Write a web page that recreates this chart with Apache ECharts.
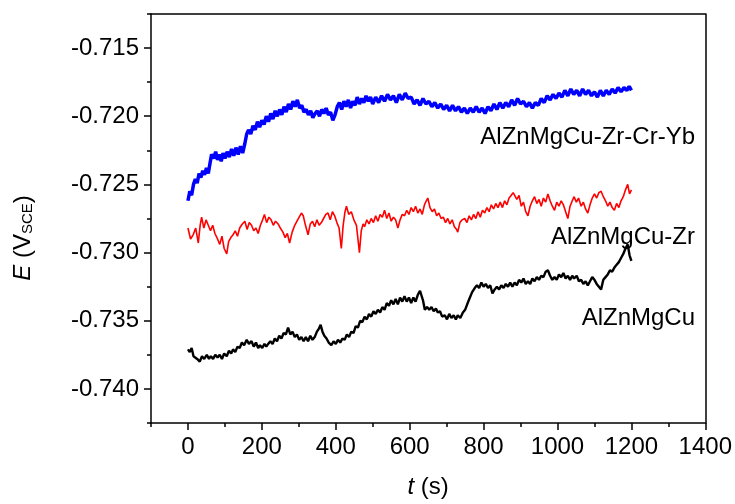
<!DOCTYPE html>
<html>
<head>
<meta charset="utf-8">
<script src="https://cdn.jsdelivr.net/npm/echarts@6/dist/echarts.min.js"></script>
<style>
  html, body { margin: 0; padding: 0; background: #fff; }
  #main { width: 735px; height: 504px; }
</style>
</head>
<body>
<div id="main"></div>
<script>
// time axis ticks and potential axis ticks
var xMajor = [0, 200, 400, 600, 800, 1000, 1200, 1400];
var xMinor = [-100, 100, 300, 500, 700, 900, 1100, 1300];
var yMajor = [-0.740, -0.735, -0.730, -0.725, -0.720, -0.715];
var yMinor = [-0.7425, -0.7375, -0.7325, -0.7275, -0.7225, -0.7175, -0.7125];

var seriesNames = ['AlZnMgCu-Zr-Cr-Yb', 'AlZnMgCu-Zr', 'AlZnMgCu'];

// AlZnMgCu-Zr-Cr-Yb (blue)
var tBlue = [0,5,10,15,20,25,30,35,40,45,50,55,60,64,70,75,80,85,90,95,100,106,112,118,124,130,136,142,148,154,159,164,170,176,182,188,194,200,206,212,218,224,230,236,242,248,254,260,266,272,278,284,290,296,302,308,314,320,326,332,338,344,350,356,362,368,374,380,386,392,398,404,410,416,422,428,434,440,446,452,458,464,470,476,482,488,494,500,508,516,524,532,540,548,556,564,572,580,588,596,604,612,620,628,636,644,652,660,668,676,684,692,700,708,716,724,732,740,748,756,764,772,780,788,796,804,812,820,828,836,844,852,860,868,876,884,892,900,908,916,924,932,940,948,956,964,972,980,988,996,1004,1012,1020,1028,1036,1044,1052,1060,1068,1076,1084,1092,1100,1108,1116,1124,1132,1140,1148,1156,1164,1172,1180,1188,1194,1200];
var eBlue = [-0.7262,-0.7255,-0.7258,-0.7250,-0.7246,-0.7249,-0.7242,-0.7245,-0.7240,-0.7243,-0.7238,-0.7242,-0.7234,-0.7228,-0.7231,-0.7226,-0.7232,-0.7228,-0.7233,-0.7227,-0.7231,-0.7226,-0.7230,-0.7224,-0.7229,-0.7223,-0.7228,-0.7222,-0.7227,-0.7220,-0.7213,-0.7210,-0.7213,-0.7207,-0.7210,-0.7204,-0.7208,-0.7203,-0.7206,-0.7200,-0.7204,-0.7198,-0.7202,-0.7196,-0.7200,-0.7195,-0.7199,-0.7193,-0.7197,-0.7191,-0.7195,-0.7189,-0.7193,-0.7188,-0.7194,-0.7192,-0.7197,-0.7195,-0.7199,-0.7196,-0.7201,-0.7198,-0.7196,-0.7200,-0.7195,-0.7198,-0.7194,-0.7199,-0.7197,-0.7203,-0.7199,-0.7193,-0.7190,-0.7195,-0.7189,-0.7193,-0.7188,-0.7194,-0.7189,-0.7192,-0.7186,-0.7191,-0.7187,-0.7190,-0.7185,-0.7189,-0.7186,-0.7191,-0.7186,-0.7190,-0.7185,-0.7189,-0.7184,-0.7188,-0.7185,-0.7190,-0.7184,-0.7188,-0.7183,-0.7187,-0.7186,-0.7191,-0.7188,-0.7192,-0.7187,-0.7191,-0.7189,-0.7193,-0.7190,-0.7194,-0.7191,-0.7195,-0.7192,-0.7196,-0.7192,-0.7196,-0.7193,-0.7197,-0.7194,-0.7198,-0.7194,-0.7197,-0.7193,-0.7197,-0.7194,-0.7198,-0.7193,-0.7196,-0.7191,-0.7195,-0.7190,-0.7194,-0.7190,-0.7193,-0.7188,-0.7192,-0.7187,-0.7191,-0.7189,-0.7193,-0.7190,-0.7194,-0.7190,-0.7192,-0.7187,-0.7190,-0.7185,-0.7188,-0.7184,-0.7187,-0.7183,-0.7186,-0.7181,-0.7185,-0.7180,-0.7184,-0.7181,-0.7185,-0.7180,-0.7184,-0.7181,-0.7185,-0.7182,-0.7186,-0.7181,-0.7185,-0.7181,-0.7184,-0.7180,-0.7183,-0.7179,-0.7182,-0.7179,-0.7181,-0.7178,-0.7181];

// AlZnMgCu-Zr (red)
var tRed = [0,7,14,21,28,33,37,43,49,55,61,67,73,80,86,92,98,105,110,116,122,128,134,140,147,154,160,166,172,178,184,190,196,202,207,213,219,225,231,237,244,250,257,263,269,275,282,289,295,301,307,312,318,325,331,337,343,349,355,361,367,373,379,385,391,397,403,409,415,420,425,429,435,442,449,456,460,464,469,474,478,484,490,496,502,508,514,520,526,532,538,544,550,556,562,568,574,580,586,592,598,604,610,616,622,628,634,640,645,649,655,661,667,673,679,685,691,697,703,709,715,721,727,730,736,742,749,755,761,767,773,779,785,791,797,803,809,815,821,827,833,839,845,851,857,863,869,875,880,884,890,896,902,908,914,920,926,932,938,944,950,956,962,968,974,980,986,992,998,1004,1010,1016,1022,1028,1034,1040,1045,1051,1057,1064,1070,1076,1082,1088,1094,1100,1106,1112,1118,1124,1130,1136,1142,1148,1154,1160,1166,1172,1178,1184,1190,1195,1200];
var eRed = [-0.7282,-0.7290,-0.7287,-0.7282,-0.7293,-0.7280,-0.7274,-0.7282,-0.7276,-0.7280,-0.7284,-0.7280,-0.7286,-0.7290,-0.7294,-0.7288,-0.7297,-0.7301,-0.7292,-0.7289,-0.7287,-0.7284,-0.7288,-0.7282,-0.7279,-0.7277,-0.7283,-0.7278,-0.7280,-0.7284,-0.7282,-0.7286,-0.7280,-0.7276,-0.7272,-0.7278,-0.7274,-0.7276,-0.7280,-0.7277,-0.7279,-0.7282,-0.7285,-0.7289,-0.7286,-0.7293,-0.7285,-0.7280,-0.7277,-0.7274,-0.7271,-0.7273,-0.7280,-0.7287,-0.7279,-0.7277,-0.7281,-0.7276,-0.7280,-0.7278,-0.7275,-0.7272,-0.7271,-0.7276,-0.7270,-0.7273,-0.7278,-0.7282,-0.7297,-0.7280,-0.7270,-0.7266,-0.7272,-0.7270,-0.7276,-0.7280,-0.7290,-0.7300,-0.7284,-0.7279,-0.7281,-0.7276,-0.7279,-0.7275,-0.7278,-0.7273,-0.7277,-0.7272,-0.7274,-0.7269,-0.7275,-0.7271,-0.7277,-0.7274,-0.7276,-0.7282,-0.7276,-0.7272,-0.7273,-0.7269,-0.7272,-0.7267,-0.7270,-0.7266,-0.7271,-0.7268,-0.7272,-0.7265,-0.7262,-0.7260,-0.7267,-0.7270,-0.7268,-0.7273,-0.7271,-0.7275,-0.7274,-0.7278,-0.7275,-0.7279,-0.7276,-0.7281,-0.7283,-0.7285,-0.7278,-0.7276,-0.7275,-0.7278,-0.7273,-0.7276,-0.7272,-0.7275,-0.7270,-0.7274,-0.7269,-0.7271,-0.7267,-0.7270,-0.7265,-0.7268,-0.7264,-0.7267,-0.7263,-0.7267,-0.7262,-0.7265,-0.7260,-0.7258,-0.7256,-0.7255,-0.7261,-0.7258,-0.7266,-0.7263,-0.7270,-0.7273,-0.7266,-0.7262,-0.7259,-0.7264,-0.7261,-0.7266,-0.7260,-0.7263,-0.7257,-0.7262,-0.7266,-0.7269,-0.7263,-0.7266,-0.7262,-0.7265,-0.7270,-0.7275,-0.7266,-0.7262,-0.7259,-0.7263,-0.7260,-0.7266,-0.7263,-0.7268,-0.7271,-0.7265,-0.7260,-0.7257,-0.7260,-0.7256,-0.7255,-0.7259,-0.7262,-0.7266,-0.7263,-0.7267,-0.7269,-0.7264,-0.7267,-0.7262,-0.7259,-0.7254,-0.7250,-0.7257,-0.7254];

// AlZnMgCu (black)
var tBlack = [0,5,10,15,19,25,32,38,44,51,57,62,68,74,80,86,92,98,105,111,117,122,128,134,140,146,152,159,165,172,178,184,190,195,201,207,212,217,223,229,235,241,247,253,259,265,271,277,283,289,295,301,307,313,319,325,331,337,343,349,354,359,364,369,375,381,388,394,400,406,412,418,424,430,436,442,448,454,460,466,472,478,484,490,496,502,508,514,520,526,532,538,544,550,556,562,568,574,580,586,592,598,604,610,616,622,628,632,636,641,647,653,659,665,671,676,682,688,695,701,707,713,719,725,730,737,744,750,757,763,769,776,782,788,794,800,806,812,818,824,830,836,842,848,854,860,866,872,878,884,890,896,902,908,914,920,926,932,938,944,950,956,962,968,974,980,986,992,998,1004,1010,1016,1022,1028,1034,1040,1045,1052,1058,1064,1070,1076,1082,1088,1094,1100,1106,1112,1118,1124,1130,1136,1142,1148,1154,1160,1166,1172,1178,1184,1190,1195,1200];
var eBlack = [-0.7371,-0.7373,-0.7370,-0.7376,-0.7375,-0.7378,-0.7380,-0.7376,-0.7378,-0.7375,-0.7378,-0.7376,-0.7378,-0.7375,-0.7377,-0.7375,-0.7378,-0.7374,-0.7376,-0.7372,-0.7374,-0.7371,-0.7373,-0.7369,-0.7370,-0.7366,-0.7368,-0.7364,-0.7367,-0.7365,-0.7369,-0.7366,-0.7370,-0.7368,-0.7370,-0.7367,-0.7369,-0.7367,-0.7365,-0.7367,-0.7363,-0.7365,-0.7361,-0.7363,-0.7359,-0.7360,-0.7355,-0.7360,-0.7358,-0.7362,-0.7360,-0.7364,-0.7362,-0.7365,-0.7362,-0.7365,-0.7361,-0.7364,-0.7362,-0.7358,-0.7356,-0.7353,-0.7358,-0.7361,-0.7363,-0.7366,-0.7368,-0.7365,-0.7367,-0.7364,-0.7366,-0.7363,-0.7364,-0.7360,-0.7362,-0.7358,-0.7359,-0.7354,-0.7355,-0.7350,-0.7351,-0.7347,-0.7349,-0.7345,-0.7347,-0.7343,-0.7345,-0.7342,-0.7344,-0.7340,-0.7342,-0.7337,-0.7339,-0.7335,-0.7338,-0.7334,-0.7338,-0.7333,-0.7336,-0.7332,-0.7336,-0.7333,-0.7337,-0.7333,-0.7336,-0.7331,-0.7328,-0.7327,-0.7335,-0.7342,-0.7340,-0.7342,-0.7340,-0.7343,-0.7341,-0.7344,-0.7343,-0.7347,-0.7346,-0.7349,-0.7345,-0.7348,-0.7346,-0.7349,-0.7346,-0.7348,-0.7344,-0.7342,-0.7337,-0.7333,-0.7329,-0.7326,-0.7324,-0.7326,-0.7322,-0.7325,-0.7323,-0.7326,-0.7324,-0.7330,-0.7327,-0.7325,-0.7327,-0.7324,-0.7326,-0.7323,-0.7325,-0.7322,-0.7325,-0.7322,-0.7324,-0.7320,-0.7322,-0.7319,-0.7323,-0.7321,-0.7323,-0.7319,-0.7321,-0.7318,-0.7320,-0.7317,-0.7318,-0.7314,-0.7313,-0.7317,-0.7320,-0.7318,-0.7320,-0.7316,-0.7318,-0.7315,-0.7319,-0.7317,-0.7320,-0.7317,-0.7319,-0.7317,-0.7321,-0.7320,-0.7323,-0.7321,-0.7324,-0.7321,-0.7318,-0.7320,-0.7323,-0.7325,-0.7327,-0.7320,-0.7318,-0.7316,-0.7313,-0.7314,-0.7311,-0.7309,-0.7307,-0.7304,-0.7301,-0.7297,-0.7294,-0.7302,-0.7306];

function pairs(ts, vs) {
    return ts.map(function (t, i) { return [t, vs[i]]; });
}

var myChart = echarts.init(document.getElementById('main'));
var font = '"Liberation Sans", Arial, sans-serif';
var fs = 24;

var option = {
    animation: false,
    backgroundColor: '#fff',
    grid: { left: 151, top: 14, right: 29, bottom: 77, show: false },
    xAxis: [
        {
            type: 'value', min: -100, max: 1400, position: 'bottom',
            name: '{i|t} (s)', nameLocation: 'middle', nameGap: 52,
            nameTextStyle: {
                fontFamily: font, fontSize: fs, color: '#000',
                rich: { i: { fontFamily: font, fontSize: fs, fontStyle: 'italic', color: '#000' } }
            },
            axisLine: { onZero: false, lineStyle: { color: '#000', width: 1.5 } },
            axisTick: { customValues: xMajor, length: 7, lineStyle: { color: '#000', width: 1.5 } },
            axisLabel: {
                customValues: xMajor, margin: 12, fontFamily: font, fontSize: fs, color: '#000',
                formatter: function (v) { return String(v); }
            },
            splitLine: { show: false }
        },
        {
            type: 'value', min: -100, max: 1400, position: 'bottom',
            axisLine: { show: false, onZero: false },
            axisTick: { customValues: xMinor, length: 4, lineStyle: { color: '#000', width: 1.5 } },
            axisLabel: { show: false },
            splitLine: { show: false }
        },
        {
            type: 'value', min: -100, max: 1400, position: 'top',
            axisLine: { onZero: false, lineStyle: { color: '#000', width: 1.5 } },
            axisTick: { show: false },
            axisLabel: { show: false },
            splitLine: { show: false }
        }
    ],
    yAxis: [
        {
            type: 'value', min: -0.7425, max: -0.7125, position: 'left',
            axisLine: { onZero: false, lineStyle: { color: '#000', width: 1.5 } },
            axisTick: { customValues: yMajor, length: 7, lineStyle: { color: '#000', width: 1.5 } },
            axisLabel: {
                customValues: yMajor, margin: 12, fontFamily: font, fontSize: fs, color: '#000',
                formatter: function (v) { return v.toFixed(3); }
            },
            splitLine: { show: false }
        },
        {
            type: 'value', min: -0.7425, max: -0.7125, position: 'left',
            axisLine: { show: false, onZero: false },
            axisTick: { customValues: yMinor, length: 4, lineStyle: { color: '#000', width: 1.5 } },
            axisLabel: { show: false },
            splitLine: { show: false }
        },
        {
            type: 'value', min: -0.7425, max: -0.7125, position: 'right',
            axisLine: { onZero: false, lineStyle: { color: '#000', width: 1.5 } },
            axisTick: { show: false },
            axisLabel: { show: false },
            splitLine: { show: false }
        }
    ],
    series: [
        { name: seriesNames[0], type: 'line', showSymbol: false, data: pairs(tBlue, eBlue),
          lineStyle: { color: '#0000ff', width: 3.5 }, itemStyle: { color: '#0000ff' } },
        { name: seriesNames[1], type: 'line', showSymbol: false, data: pairs(tRed, eRed),
          lineStyle: { color: '#ff0000', width: 1.6 }, itemStyle: { color: '#ff0000' } },
        { name: seriesNames[2], type: 'line', showSymbol: false, data: pairs(tBlack, eBlack),
          lineStyle: { color: '#000000', width: 2.4 }, itemStyle: { color: '#000000' } }
    ],
    graphic: [
        { type: 'text', right: 40, top: 125, style: { text: seriesNames[0], font: fs + 'px ' + font, fill: '#000' } },
        { type: 'text', right: 40, top: 225, style: { text: seriesNames[1], font: fs + 'px ' + font, fill: '#000' } },
        { type: 'text', right: 40, top: 306, style: { text: seriesNames[2], font: fs + 'px ' + font, fill: '#000' } },
        {
            type: 'text', x: 23, y: 238, rotation: Math.PI / 2,
            style: {
                text: '{i|E} (V{sub|SCE})', align: 'center', verticalAlign: 'middle',
                font: fs + 'px ' + font, fill: '#000',
                rich: {
                    i: { fontFamily: font, fontSize: fs, fontStyle: 'italic', fill: '#000' },
                    sub: { fontFamily: font, fontSize: 15, fill: '#000', padding: [10, 0, 0, 0] }
                }
            }
        }
    ]
};

myChart.setOption(option);
</script>
</body>
</html>
